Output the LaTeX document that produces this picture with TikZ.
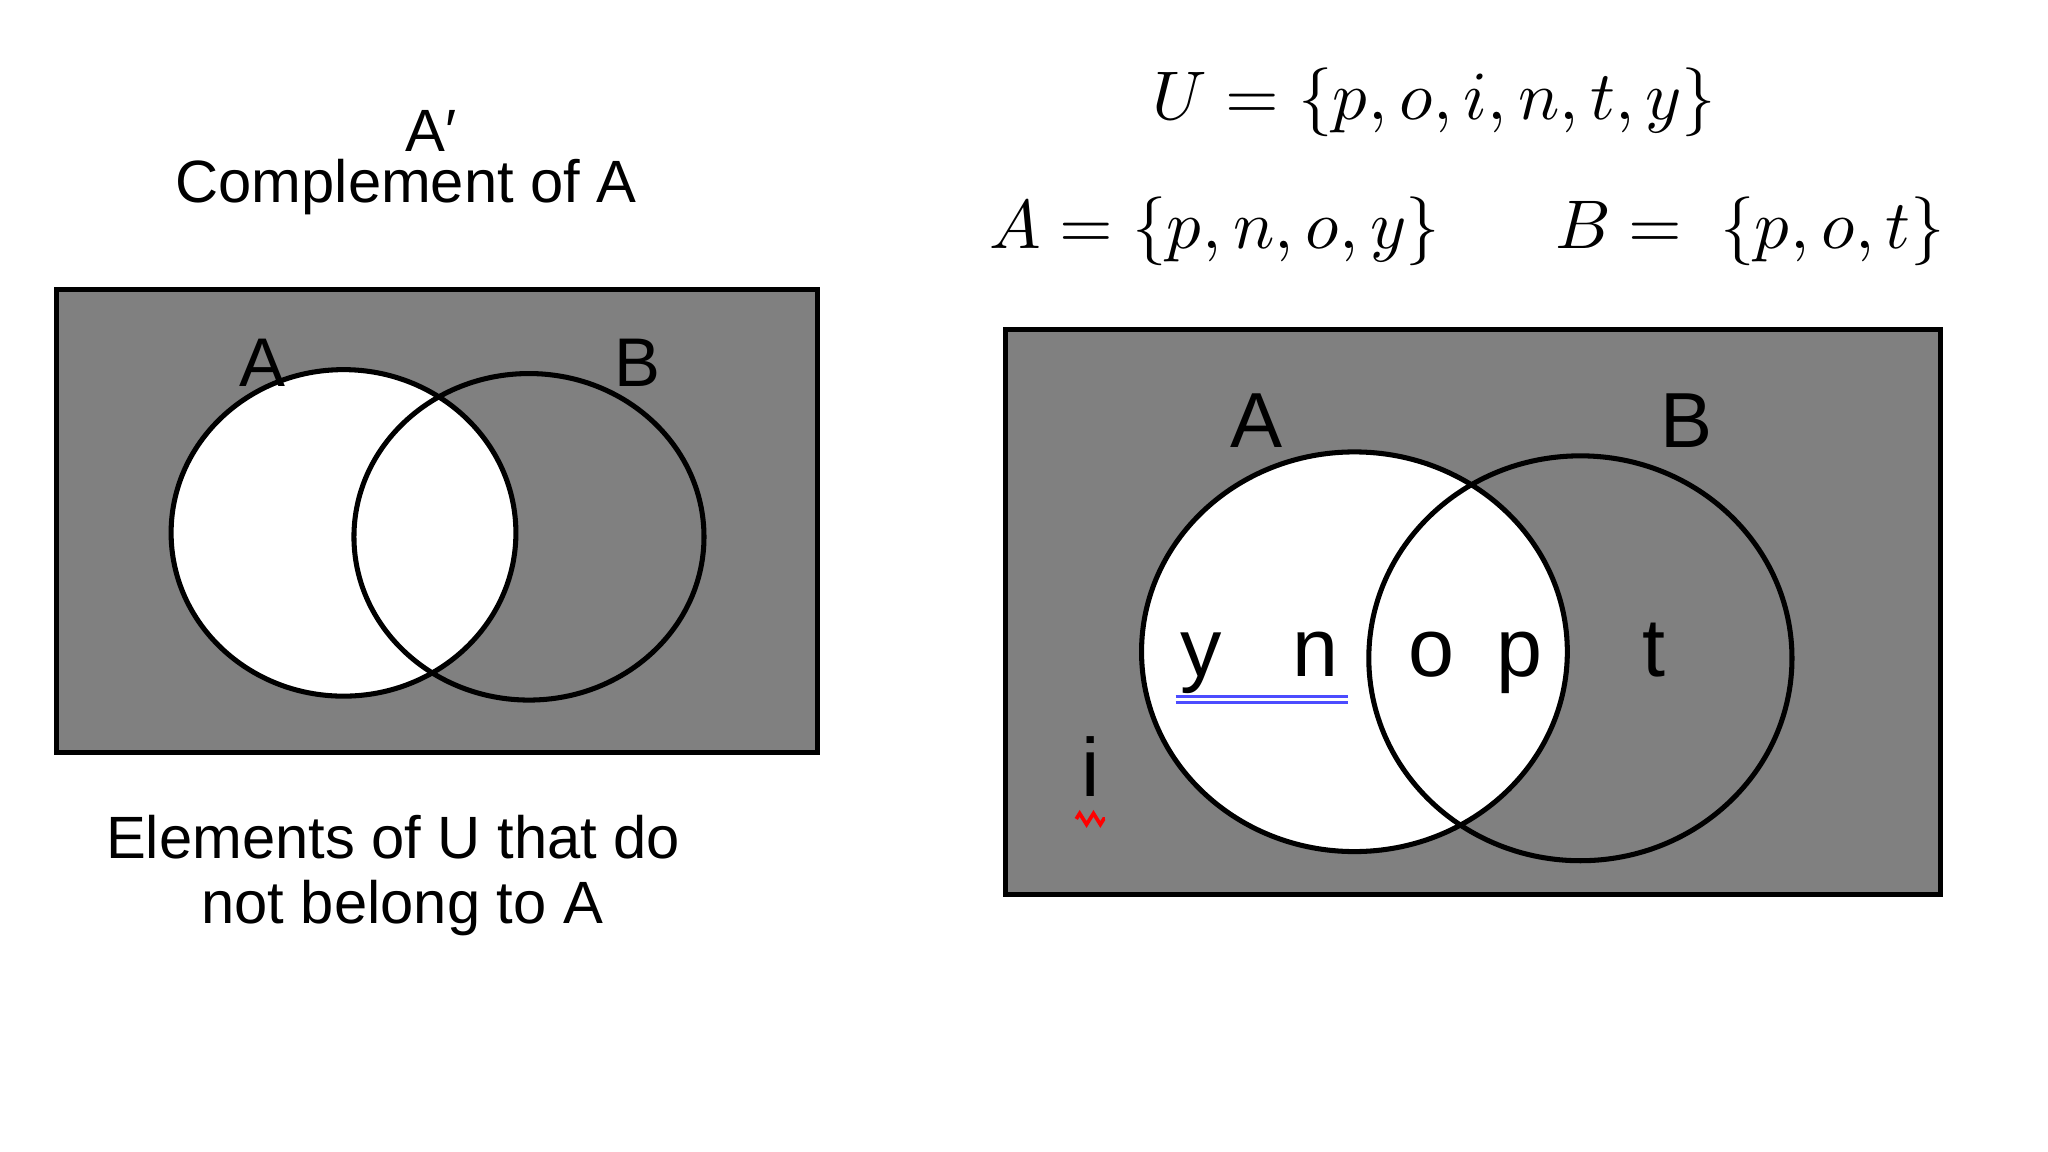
\documentclass[tikz,border=0pt]{standalone}
\usepackage{fontspec}
\setmainfont{Liberation Sans}
\usepackage{unicode-math}
\setmathfont{Latin Modern Math}
\usetikzlibrary{decorations.pathmorphing}
\definecolor{bg}{HTML}{808080}
\begin{document}
\begin{tikzpicture}[x=0.01cm,y=-0.01cm,
  lbl/.style={inner sep=0pt,anchor=center},
  ring/.style={draw=black,line width=1.1pt}]
\useasboundingbox (0,0) rectangle (1568,882);
% left diagram
\node[lbl,font=\fontsize{13}{15}\selectfont] (ap) at (330,100) {A′};
\node[lbl,font=\fontsize{13}{15}\selectfont] (comp) at (311,143) {Complement of A};
\filldraw[fill=bg,ring] (43,222) rectangle (626,576);
\fill[white] (263,408) ellipse [x radius=132, y radius=125];
\draw[ring] (263,408) ellipse [x radius=132, y radius=125];
\draw[ring] (405,411) ellipse [x radius=134, y radius=125];
\node[lbl,font=\fontsize{15}{17}\selectfont] (la) at (201,278) {A};
\node[lbl,font=\fontsize{15}{17}\selectfont] (lb) at (488,278) {B};
\node[lbl,font=\fontsize{13}{15}\selectfont] (el1) at (301,641) {Elements of U that do};
\node[lbl,font=\fontsize{13}{15}\selectfont] (el2) at (308,695) {not belong to A};
% right diagram
\node[lbl,font=\fontsize{15}{17}\selectfont] (U) at (1098,78) {$U=\{p,o,i,n,t,y\}$};
\node[lbl,font=\fontsize{15}{17}\selectfont] (Aset) at (930,177) {$A=\{p,n,o,y\}$};
\node[lbl,font=\fontsize{15}{17}\selectfont] (Bset) at (1340,177) {$B=\ \{p,o,t\}$};
\filldraw[fill=bg,ring] (770,252) rectangle (1486,685);
\fill[white] (1037,499) ellipse [x radius=163, y radius=153];
\draw[ring] (1037,499) ellipse [x radius=163, y radius=153];
\draw[ring] (1210,504) ellipse [x radius=162, y radius=155];
\node[lbl,font=\fontsize{17}{19}\selectfont] (ra) at (962,322) {A};
\node[lbl,font=\fontsize{17}{19}\selectfont] (rb) at (1291,322) {B};
\foreach \n/\x/\t in {y/920/y,n/1007/n,o/1096/o,p/1163/p,t/1266/t}
  \node[lbl,font=\fontsize{18}{20}\selectfont,anchor=base] (e\n) at (\x,518) {\t};
\node[lbl,font=\fontsize{18}{20}\selectfont,anchor=base] (ei) at (835,610) {i};
\draw[blue!70!white,line width=0.6pt] (900,533) -- (1032,533) (900,538) -- (1032,538);
\draw[red,line width=0.8pt,decorate,decoration={zigzag,amplitude=1.2pt,segment length=3pt}] (824,627) -- (846,627);
\end{tikzpicture}
\end{document}
